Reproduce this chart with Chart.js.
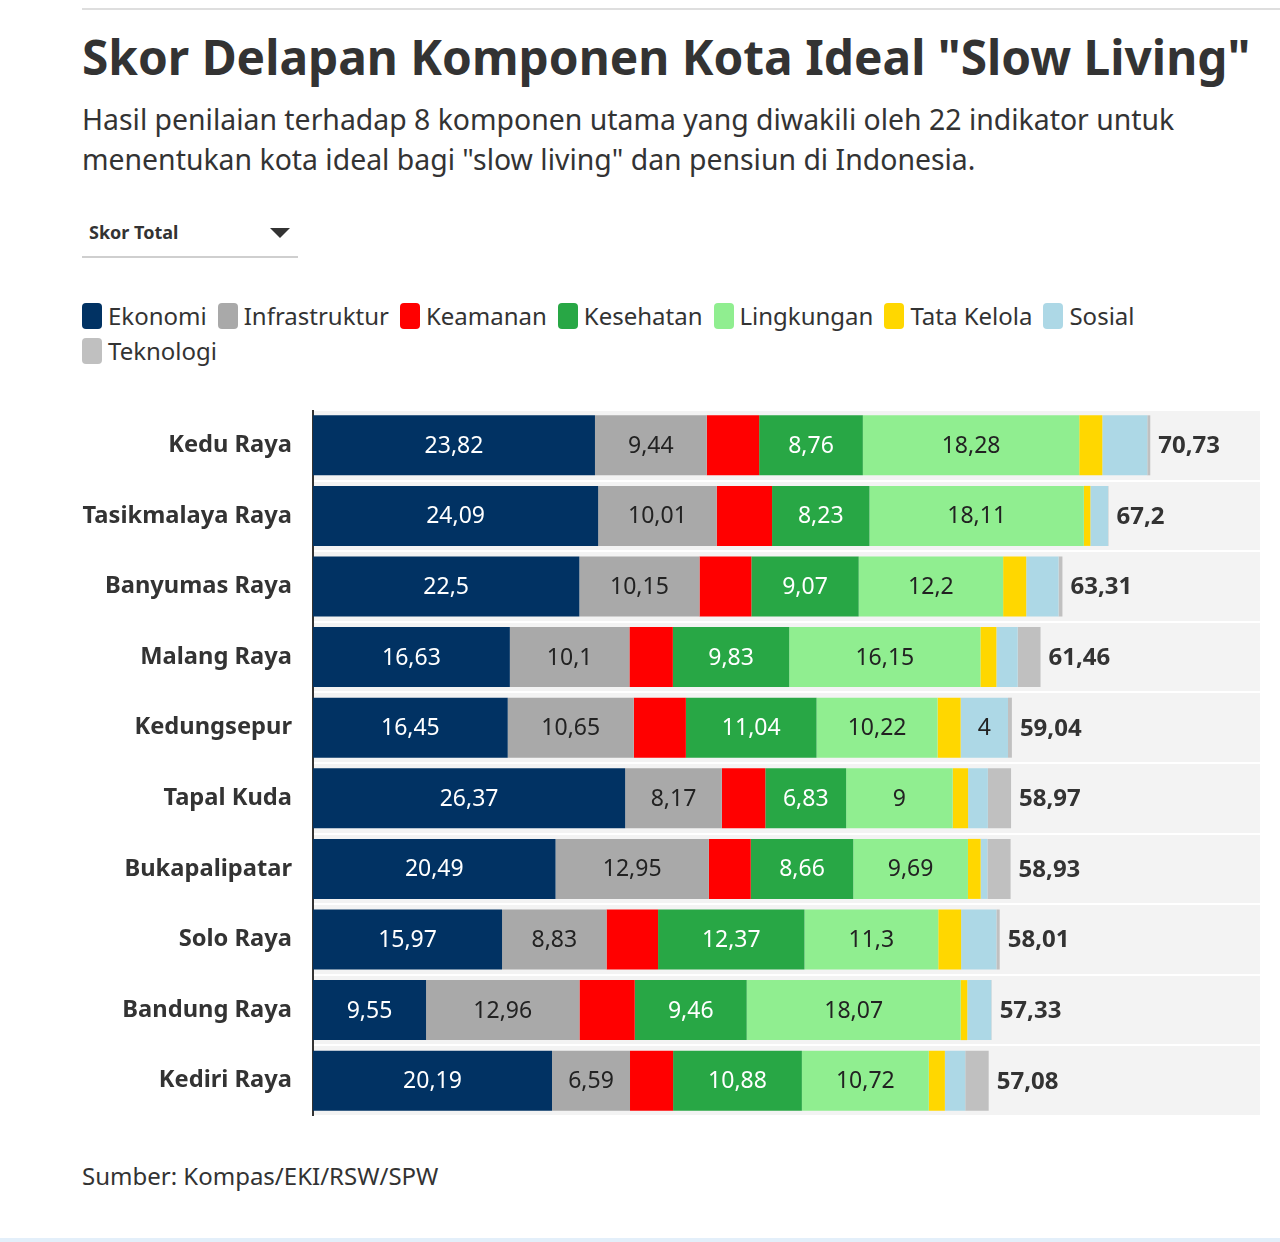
<!DOCTYPE html>
<html>
<head>
<meta charset="utf-8">
<script src="https://cdn.jsdelivr.net/npm/chart.js@4.4.1/dist/chart.umd.min.js"></script>
<style>
    body { margin: 0; background: #fff; font-family: "Noto Sans", sans-serif; color: #333; }
    #page { position: relative; width: 1280px; height: 1242px; overflow: hidden; }
    .topline { position: absolute; left: 82px; top: 8px; right: 0; height: 2px; background: #dedede; }
    h1 { position: absolute; left: 82px; top: 27px; margin: 0; font-size: 47.8px; line-height: 60px; font-weight: 700; white-space: nowrap; }
    .sub { position: absolute; left: 82px; top: 99px; font-size: 28.4px; line-height: 40px; white-space: nowrap; }
    .dd { position: absolute; left: 89px; top: 220px; font-size: 18px; line-height: 24px; font-weight: 700; }
    .tri { position: absolute; left: 270px; top: 228px; width: 0; height: 0; border-left: 10px solid transparent; border-right: 10px solid transparent; border-top: 10px solid #333; }
    .ddline { position: absolute; left: 82px; top: 256px; width: 216px; height: 2px; background: #cfcfcf; }
    #legend { position: absolute; left: 82px; top: 298px; width: 1150px; display: flex; flex-wrap: wrap; font-size: 24px; line-height: 35px; }
    .item { display: flex; align-items: center; margin-right: 11px; }
    .box { width: 20px; height: 26px; border-radius: 4px; margin-right: 6px; }
    #wrap { position: absolute; left: 0; top: 410px; width: 1260px; height: 706px; }
    .src { position: absolute; left: 82px; top: 1162px; font-size: 24px; line-height: 28px; }
    .bottom { position: absolute; left: 0; right: 0; top: 1238px; height: 4px; background: #e3effa; }
</style>
</head>
<body>
<div id="page">
    <div class="topline"></div>
    <h1>Skor Delapan Komponen Kota Ideal "Slow Living"</h1>
    <div class="sub">Hasil penilaian terhadap 8 komponen utama yang diwakili oleh 22 indikator untuk<br>menentukan kota ideal bagi "slow living" dan pensiun di Indonesia.</div>
    <div class="dd">Skor Total</div>
    <div class="tri"></div>
    <div class="ddline"></div>
    <div id="legend"></div>
    <div id="wrap"><canvas id="skorChart"></canvas></div>
    <div class="src">Sumber: Kompas/EKI/RSW/SPW</div>
    <div class="bottom"></div>
</div>
<script>
// data
var cities = ['Kedu Raya', 'Tasikmalaya Raya', 'Banyumas Raya', 'Malang Raya', 'Kedungsepur',
              'Tapal Kuda', 'Bukapalipatar', 'Solo Raya', 'Bandung Raya', 'Kediri Raya'];
var ekonomi       = [23.82, 24.09, 22.5, 16.63, 16.45, 26.37, 20.49, 15.97, 9.55, 20.19];
var infrastruktur = [9.44, 10.01, 10.15, 10.1, 10.65, 8.17, 12.95, 8.83, 12.96, 6.59];
var keamanan      = [4.43, 4.68, 4.38, 3.67, 4.4, 3.67, 3.54, 4.35, 4.67, 3.64];
var kesehatan     = [8.76, 8.23, 9.07, 9.83, 11.04, 6.83, 8.66, 12.37, 9.46, 10.88];
var lingkungan    = [18.28, 18.11, 12.2, 16.15, 10.22, 9, 9.69, 11.3, 18.07, 10.72];
var tataKelola    = [1.95, 0.55, 1.95, 1.35, 1.95, 1.3, 1.07, 1.93, 0.56, 1.36];
var sosial        = [3.8, 1.5, 2.73, 1.8, 4, 1.67, 0.57, 2.98, 2.03, 1.72];
var teknologi     = [0.25, 0.03, 0.33, 1.93, 0.33, 1.96, 1.96, 0.28, 0.03, 1.98];
var totals        = [70.73, 67.2, 63.31, 61.46, 59.04, 58.97, 58.93, 58.01, 57.33, 57.08];

function fmt(v) { return String(v).replace('.', ','); }

// minLabel: nilai terkecil yang masih diberi label di dalam batang
var series = [
    { label: 'Ekonomi',       data: ekonomi,       color: '#013263', text: '#fff', minLabel: 0 },
    { label: 'Infrastruktur', data: infrastruktur, color: '#a9a9a9', text: '#222', minLabel: 0 },
    { label: 'Keamanan',      data: keamanan,      color: '#ff0000', text: '#fff', minLabel: Infinity },
    { label: 'Kesehatan',     data: kesehatan,     color: '#28a745', text: '#fff', minLabel: 0 },
    { label: 'Lingkungan',    data: lingkungan,    color: '#90ee90', text: '#222', minLabel: 0 },
    { label: 'Tata Kelola',   data: tataKelola,    color: '#ffd700', text: '#222', minLabel: Infinity },
    { label: 'Sosial',        data: sosial,        color: '#add8e6', text: '#222', minLabel: 4 },
    { label: 'Teknologi',     data: teknologi,     color: '#c0c0c0', text: '#222', minLabel: Infinity }
];

// legend
var legend = document.getElementById('legend');
series.forEach(function (s) {
    var it = document.createElement('div');
    it.className = 'item';
    it.innerHTML = '<span class="box" style="background:' + s.color + '"></span>' + s.label;
    legend.appendChild(it);
});

var bgPlugin = {
    id: 'bg',
    beforeDraw: function (chart) {
        var a = chart.chartArea, ctx = chart.ctx;
        ctx.save();
        ctx.fillStyle = '#f3f3f3';
        ctx.fillRect(a.left, a.top, a.right - a.left, a.bottom - a.top);
        ctx.restore();
    }
};

var labelPlugin = {
    id: 'labels',
    afterDatasetsDraw: function (chart) {
        var ctx = chart.ctx;
        ctx.save();
        ctx.textBaseline = 'middle';
        ctx.textAlign = 'center';
        ctx.font = '400 23px "Noto Sans"';
        chart.data.datasets.forEach(function (ds, di) {
            var meta = chart.getDatasetMeta(di);
            meta.data.forEach(function (bar, i) {
                var v = ds.data[i];
                if (v < ds.minLabel) return;
                ctx.fillStyle = ds.textColor;
                ctx.fillText(fmt(v), (bar.x + bar.base) / 2, bar.y + 1);
            });
        });
        // total di ujung batang
        ctx.textAlign = 'left';
        ctx.font = '700 24px "Noto Sans"';
        ctx.fillStyle = '#333';
        var last = chart.getDatasetMeta(chart.data.datasets.length - 1);
        last.data.forEach(function (bar, i) {
            ctx.fillText(fmt(totals[i]), bar.x + 8, bar.y + 1);
        });
        ctx.restore();
    }
};

new Chart(document.getElementById('skorChart'), {
    type: 'bar',
    data: {
        labels: cities,
        datasets: series.map(function (s) {
            return {
                label: s.label,
                data: s.data,
                backgroundColor: s.color,
                textColor: s.text,
                minLabel: s.minLabel,
                borderWidth: 0,
                categoryPercentage: 1,
                barPercentage: 0.85
            };
        })
    },
    options: {
        indexAxis: 'y',
        responsive: true,
        maintainAspectRatio: false,
        animation: false,
        layout: { padding: 0 },
        plugins: { legend: { display: false }, tooltip: { enabled: false } },
        scales: {
            x: { stacked: true, min: 0, max: 80, display: false },
            y: {
                stacked: true,
                grid: { color: '#fff', lineWidth: 2, drawTicks: false },
                border: { display: true, color: '#333', width: 2 },
                ticks: { color: '#333', padding: 21, font: { family: 'Noto Sans', size: 23.7, weight: 'bold' } },
                afterFit: function (s) {
                    s.width = 313;
                    s.paddingTop = 0;
                    s.paddingBottom = 0;
                }
            }
        }
    },
    plugins: [bgPlugin, labelPlugin]
});
</script>
</body>
</html>
